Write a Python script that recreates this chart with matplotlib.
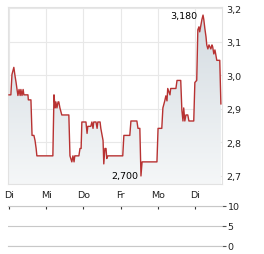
import matplotlib.pyplot as plt
import numpy as np
from matplotlib.colors import LinearSegmentedColormap
from matplotlib.patches import PathPatch

# day labels on the x axis (one per trading day)
days = ["Di", "Mi", "Do", "Fr", "Mo", "Di"]

# intraday prices, time in trading days since the first "Di"
t = [0.00, 0.05, 0.08, 0.13, 0.16, 0.19, 0.22, 0.24, 0.27, 0.30, 0.32, 0.35, 0.38, 0.40,
     0.51, 0.52, 0.59, 0.62, 0.67, 0.70, 0.73, 0.75, 1.18, 1.21, 1.24, 1.26, 1.29, 1.32,
     1.34, 1.37, 1.42, 1.61, 1.64, 1.69, 1.72, 1.75, 1.77, 1.88, 1.91, 1.94, 1.96, 2.07,
     2.10, 2.12, 2.20, 2.23, 2.26, 2.28, 2.34, 2.37, 2.39, 2.45, 2.47, 2.53, 2.55, 2.58,
     2.61, 2.63, 2.66, 3.06, 3.09, 3.25, 3.28, 3.44, 3.47, 3.52, 3.55, 3.58, 3.98, 4.01,
     4.11, 4.14, 4.19, 4.22, 4.25, 4.27, 4.33, 4.35, 4.49, 4.52, 4.62, 4.65, 4.68, 4.70,
     4.73, 4.76, 4.81, 4.84, 4.97, 5.00, 5.05, 5.08, 5.11, 5.13, 5.19, 5.22, 5.24, 5.27,
     5.30, 5.32, 5.35, 5.38, 5.43, 5.46, 5.48, 5.51, 5.54, 5.56, 5.59, 5.67, 5.70]
price = [2.942, 2.942, 3.003, 3.024, 3.000, 2.979, 2.955, 2.940, 2.958, 2.940, 2.958, 2.940,
         2.958, 2.942, 2.942, 2.927, 2.927, 2.821, 2.821, 2.806, 2.782, 2.760, 2.760, 2.942,
         2.903, 2.921, 2.903, 2.921, 2.921, 2.903, 2.882, 2.882, 2.760, 2.742, 2.760, 2.742,
         2.760, 2.760, 2.782, 2.782, 2.861, 2.861, 2.827, 2.848, 2.848, 2.861, 2.842, 2.861,
         2.861, 2.842, 2.861, 2.861, 2.842, 2.806, 2.736, 2.782, 2.782, 2.752, 2.760, 2.760,
         2.821, 2.821, 2.864, 2.864, 2.842, 2.842, 2.700, 2.742, 2.742, 2.842, 2.842, 2.903,
         2.924, 2.939, 2.924, 2.961, 2.942, 2.961, 2.961, 2.985, 2.985, 2.897, 2.864, 2.903,
         2.864, 2.882, 2.882, 2.864, 2.864, 2.979, 2.985, 3.136, 3.145, 3.130, 3.167, 3.180,
         3.167, 3.139, 3.115, 3.091, 3.079, 3.091, 3.079, 3.091, 3.085, 3.064, 3.076, 3.064,
         3.045, 3.045, 2.915]

price_ticks = [2.7, 2.8, 2.9, 3.0, 3.1, 3.2]
vol_ticks = [0, 5, 10]

xmin, xmax = -0.027, 5.73
ymin, ymax = 2.676, 3.204
txt = '#222222'

fig = plt.figure(figsize=(2.64, 2.55), dpi=100)

# price panel
ax = fig.add_axes([0.0303, 0.2745, 0.8106, 0.694])
poly = ax.fill_between(t, price, ymin - 0.1, color='none', linewidth=0)
clip = PathPatch(poly.get_paths()[0], transform=ax.transData, facecolor='none', edgecolor='none')
ax.add_patch(clip)
cmap = LinearSegmentedColormap.from_list('fade', ['#f5f7f8', '#d2dae0'])
grad = np.linspace(1, 0, 256).reshape(-1, 1)
im = ax.imshow(grad, cmap=cmap, aspect='auto', extent=[xmin, xmax, ymin, ymax], origin='upper', zorder=1)
im.set_clip_path(clip)
ax.plot(t, price, color='#b83232', linewidth=1.0, zorder=3)

ax.set_xlim(xmin, xmax)
ax.set_ylim(ymin, ymax)
ax.set_xticks(range(len(days)))
ax.set_xticklabels(days)
ax.set_yticks(price_ticks)
ax.set_yticklabels([f"{v:.1f}".replace('.', ',') for v in price_ticks])
ax.yaxis.tick_right()
ax.tick_params(axis='both', length=0, labelsize=6.8, colors=txt)
ax.tick_params(axis='y', pad=3)
ax.tick_params(axis='x', pad=4)
ax.grid(color='#e8e8e8', linewidth=0.8, zorder=0)
ax.set_axisbelow(True)
for s in ax.spines.values():
    s.set_color('#e2e2e2')
    s.set_linewidth(0.8)

# high / low markers
i_hi = int(np.argmax(price))
i_lo = int(np.argmin(price))
ax.annotate(f"{price[i_hi]:.3f}".replace('.', ','), (t[i_hi], price[i_hi]), xytext=(-4, 0),
            textcoords='offset points', ha='right', va='center', fontsize=6.8, color='black')
ax.annotate(f"{price[i_lo]:.3f}".replace('.', ','), (t[i_lo], price[i_lo]), xytext=(-2, 0),
            textcoords='offset points', ha='right', va='center', fontsize=6.8, color='black')

# volume panel (empty)
ax2 = fig.add_axes([0.0303, 0.0314, 0.8106, 0.1569])
ax2.set_xlim(xmin, xmax)
ax2.set_ylim(0, 10)
ax2.set_xticks(range(len(days)))
ax2.xaxis.tick_top()
ax2.tick_params(axis='x', direction='in', length=2.5, width=0.8, colors='#333333', labeltop=False)
ax2.set_yticks(vol_ticks)
ax2.yaxis.tick_right()
ax2.tick_params(axis='y', direction='out', length=3, width=0.8, colors='#555555', labelcolor=txt,
                labelsize=6.8, pad=1)
ax2.grid(axis='y', color='#c8c8c8', linewidth=0.8)
ax2.spines['left'].set_visible(False)
ax2.spines['right'].set_visible(False)
for s in ['top', 'bottom']:
    ax2.spines[s].set_color('#c8c8c8')
    ax2.spines[s].set_linewidth(0.8)

fig.savefig("out.png", dpi=100)
